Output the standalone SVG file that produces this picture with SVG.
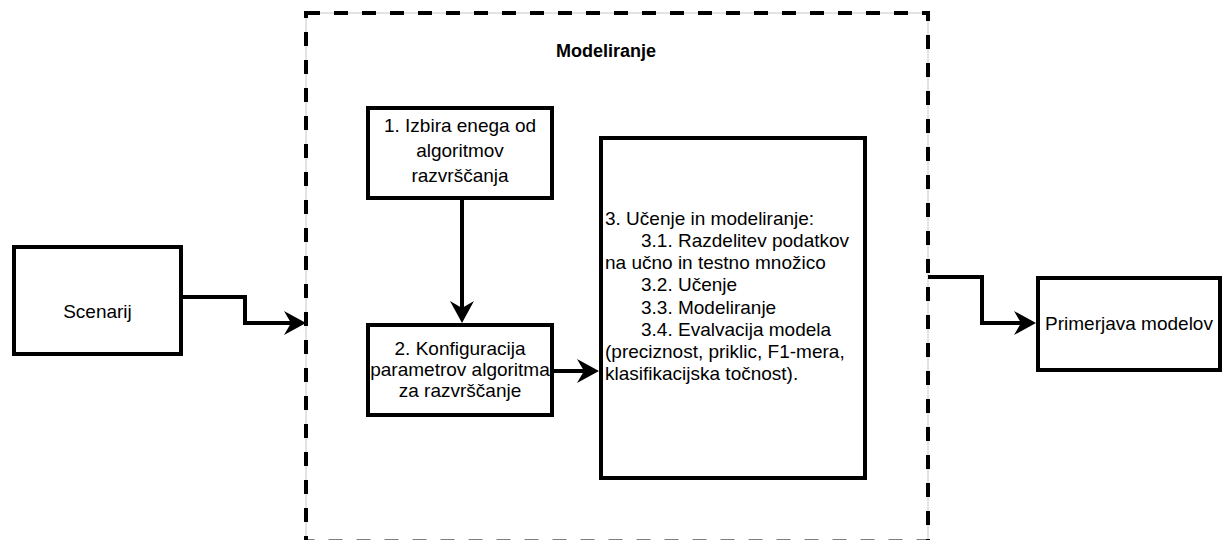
<svg xmlns="http://www.w3.org/2000/svg" width="1223" height="540" viewBox="0 0 1223 540">
<style>
.box{fill:#fff;stroke:#000;stroke-width:4}
.t{font-family:"Liberation Sans",Arial,sans-serif;font-size:19px;fill:#000}
.c{text-anchor:middle}
.conn{fill:none;stroke:#000;stroke-width:4;marker-end:url(#arr)}
</style>
<defs>
<marker id="arr" markerUnits="userSpaceOnUse" markerWidth="22" markerHeight="24" viewBox="0 0 22 24" refX="7" refY="12" orient="auto">
<path d="M0,0 L22,12 L0,24 L7,12 Z" fill="#000"/>
</marker>
</defs>
<rect width="1223" height="540" fill="#fff"/>
<g id="container">
<rect x="306" y="13" width="622" height="528.5" fill="none" stroke="#c8c8c8" stroke-width="1"/>
<rect x="306" y="13" width="622" height="528.5" fill="none" stroke="#000" stroke-width="4" stroke-dasharray="14 14"/>
<text class="t c" x="606" y="57" style="font-weight:bold;font-size:18px">Modeliranje</text>
</g>
<g id="scenarij">
<rect class="box" x="14" y="247" width="167" height="107"/>
<text class="t c" x="97.5" y="318">Scenarij</text>
</g>
<g id="izbira">
<rect class="box" x="368" y="108" width="184" height="90"/>
<text class="t c" x="460" y="132">1. Izbira enega od</text>
<text class="t c" x="460" y="157">algoritmov</text>
<text class="t c" x="460" y="182">razvrščanja</text>
</g>
<g id="konfiguracija">
<rect class="box" x="368" y="325" width="184" height="90"/>
<text class="t c" x="460" y="355">2. Konfiguracija</text>
<text class="t c" x="460" y="376">parametrov algoritma</text>
<text class="t c" x="460" y="397">za razvrščanje</text>
</g>
<g id="ucenje">
<rect class="box" x="601" y="138" width="264" height="340"/>
<text class="t" x="605" y="225">3. Učenje in modeliranje:</text>
<text class="t" x="641" y="247">3.1. Razdelitev podatkov</text>
<text class="t" x="605" y="269">na učno in testno množico</text>
<text class="t" x="641" y="291">3.2. Učenje</text>
<text class="t" x="641" y="314">3.3. Modeliranje</text>
<text class="t" x="641" y="336">3.4. Evalvacija modela</text>
<text class="t" x="605" y="358">(preciznost, priklic, F1-mera,</text>
<text class="t" x="605" y="380">klasifikacijska točnost).</text>
</g>
<g id="primerjava">
<rect class="box" x="1038" y="278" width="182" height="92"/>
<text class="t c" x="1129" y="330">Primerjava modelov</text>
</g>
<g id="connectors">
<path class="conn" d="M181,297 H245 V323 H291"/>
<path class="conn" d="M462,198 V308"/>
<path class="conn" d="M552,371 H584"/>
<path class="conn" d="M928,277 H982 V323 H1021"/>
</g>
</svg>
